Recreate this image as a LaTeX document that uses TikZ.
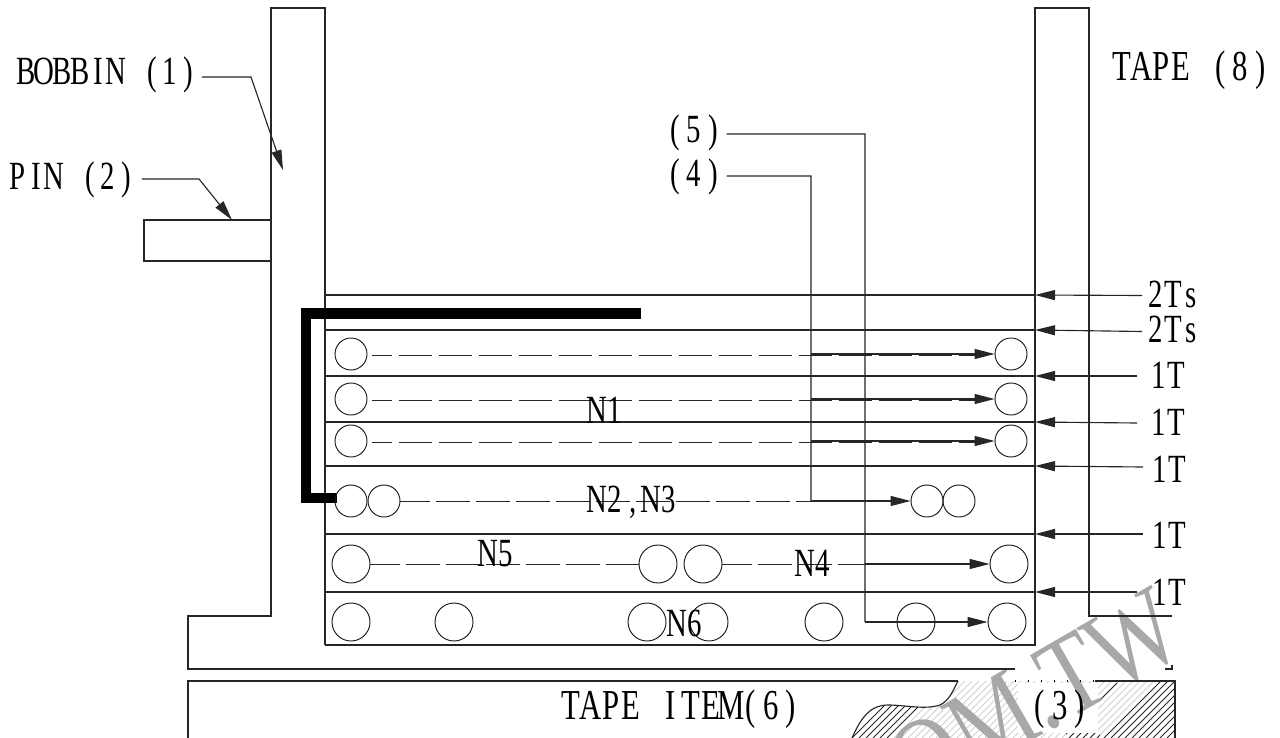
\documentclass[tikz,border=0pt]{standalone}
\usepackage{fontspec}
\usetikzlibrary{arrows.meta}
\newfontfamily\cadfont[FakeStretch=0.72]{Liberation Serif}
\newfontfamily\wmfont[FakeStretch=0.8]{Liberation Serif}
\newlength\cadw
\def\cadloop#1{\ifx#1\relax\else\makebox[\cadw][c]{#1}\expandafter\cadloop\fi}
\newcommand\cad[2][13.5pt]{\setlength\cadw{#1}\cadloop#2\relax}
\tikzset{
  x=0.75pt,y=-0.75pt,
  ln/.style={line width=0.85pt,line join=miter,draw=black!85},
  lab/.style={inner sep=0pt,font=\cadfont\fontsize{30}{32}\selectfont},
  labbig/.style={inner sep=0pt,font=\cadfont\fontsize{32}{34}\selectfont},
  coil/.style={circle,draw=black!90,line width=0.7pt,inner sep=0pt,minimum size=24pt},
  bigcoil/.style={circle,draw=black!90,line width=0.7pt,inner sep=0pt,minimum size=28.5pt},
  tip/.style={ln,-{Triangle[length=15pt,width=7.5pt]}},
  dashw/.style={ln,line width=0.7pt,dash pattern=on 25pt off 5pt},
  hatchk/.style={line width=0.75pt,draw=black!85},
  hatchg/.style={line width=0.6pt,draw=black!18},
}
\begin{document}
\begin{tikzpicture}
\useasboundingbox (0,0) rectangle (1280,738);
\fill[white] (0,0) rectangle (1280,738);
% cut-away hatching of the core
\begin{scope}
  \clip (852,738) .. controls (862,715) and (872,705) .. (888,705) .. controls (905,705) and (925,710) .. (940,705) .. controls (950,700) and (953,690) .. (958,681) -- (1175,681) -- (1175,738) -- cycle;
  \foreach \c in {1590,1597,...,1625} \draw[hatchk] (\c-738,738) -- (\c-681,681);
  \foreach \c in {1632,1639,...,1835} \draw[hatchg] (\c-738,738) -- (\c-681,681);
  \foreach \c in {1842,1849,...,1915} \draw[hatchk] (\c-738,738) -- (\c-681,681);
  \fill[white] (1018,683) rectangle (1098,733);
  \draw[hatchk] (1100,700) -- (1117,683);
  \begin{scope}
    \clip (1066,733) rectangle (1100,738);
    \foreach \c in {1800,1807,...,1835} \draw[hatchk] (\c-738,738) -- (\c-681,681);
  \end{scope}
\end{scope}
\draw[ln] (852,738) .. controls (862,715) and (872,705) .. (888,705) .. controls (905,705) and (925,710) .. (940,705) .. controls (950,700) and (953,690) .. (958,681);
% watermark
\begin{scope}
\clip (0,0) rectangle (1280,738);
\node[anchor=base east,inner sep=0pt,rotate=30,text=black!34,font=\wmfont\fontsize{86}{86}\selectfont] (wm) at (1190,650) {OM.TW};
\end{scope}
% bobbin outline
\draw[ln] (325,645) -- (325,8) -- (271,8) -- (271,616) -- (188,616) -- (188,669) -- (1015,669);
\draw[ln] (1165,669) -- (1172,669) -- (1172,665);
\draw[ln] (325,645) -- (1035,645) -- (1035,8) -- (1089,8) -- (1089,616) -- (1172,616);
\draw[ln] (144,220) rectangle (271,261);
% core outline
\draw[ln] (188,738) -- (188,681) -- (958,681);
\draw[ln] (1095,681) -- (1175,681) -- (1175,738);
\draw[line width=0.85pt,dash pattern=on 0.8pt off 9pt] (1015,681) -- (1095,681);
% layers
\foreach \y/\n in {295/a,330/b,376/c,422/d,466/e,534/f,592/g}{
  \coordinate (l\n) at (325,\y);
  \coordinate (r\n) at (1035,\y);
  \draw[ln] (l\n) -- (r\n);
}
% shield
\draw[line width=7.9pt,line join=miter] (640.5,313.5) -- (306,313.5) -- (306,498) -- (337,498);
% windings
\node[coil] (a1) at (351,354) {}; \node[coil] (a2) at (1011,354) {};
\node[coil] (b1) at (351,399) {}; \node[coil] (b2) at (1011,399) {};
\node[coil] (c1) at (351,441) {}; \node[coil] (c2) at (1011,441) {};
\node[coil] (d1) at (351,501) {}; \node[coil] (d2) at (384,501) {};
\node[coil] (d3) at (927,501) {}; \node[coil] (d4) at (959,501) {};
\node[bigcoil] (e1) at (351,564) {}; \node[bigcoil] (e2) at (658,564) {};
\node[bigcoil] (e3) at (703,564) {}; \node[bigcoil] (e4) at (1009,564) {};
\node[bigcoil] (f1) at (351,622) {}; \node[bigcoil] (f2) at (454,622) {};
\node[bigcoil] (f3) at (647,622) {}; \node[bigcoil] (f4) at (709,622) {};
\node[bigcoil] (f5) at (824,622) {}; \node[bigcoil] (f6) at (916,622) {};
\node[bigcoil] (f7) at (1007,622) {};
% dashed winding paths
\draw[dashw,dash phase=10pt] (372,355) -- (975,355);
\draw[dashw,dash phase=10pt] (372,400) -- (975,400);
\draw[dashw,dash phase=10pt] (372,442) -- (975,442);
\draw[dashw,dash phase=3pt] (d2.east) -- (811,501);
\draw[dashw,dash phase=3pt] (e1.east) -- (e2.west);
\draw[dashw,dash phase=3pt] (e3.east) -- (866,564);
% labels
\node[lab] (bob) at (107,75) {\cad[13.5pt]{BOBBIN~(1)}};
\node[lab] (pin) at (72,180) {\cad[13.5pt]{PIN~(2)}};
\node[labbig] (tape) at (1191,70) {\cad[14.9pt]{TAPE~(8)}};
\node[lab] (five) at (694,133) {\cad[14.2pt]{(5)}};
\node[lab] (four) at (694,177) {\cad[14.2pt]{(4)}};
\node[lab] (t1) at (1173.5,294) {\cad{2Ts}};
\node[lab] (t2) at (1173.5,329) {\cad{2Ts}};
\node[lab] (t3) at (1167.5,375) {\cad{1T}};
\node[lab] (t4) at (1167.5,422) {\cad{1T}};
\node[lab] (t5) at (1168.5,469) {\cad{1T}};
\node[lab] (t6) at (1168.5,535) {\cad{1T}};
\node[lab] (t7) at (1168.5,592) {\cad{1T}};
\node[lab] (n1) at (606,410) {\cad{N1}};
\node[lab] (n23) at (633,502) {\cad{N2,N3}};
\node[lab] (n5) at (497,554) {\cad{N5}};
\node[lab] (n4) at (814,563) {\cad{N4}};
\node[lab] (n6) at (686,623) {\cad{N6}};
\node[labbig] (item) at (681,709) {\cad[15pt]{TAPE~ITEM(6)}};
\node[labbig] (three) at (1060,709) {\cad[15pt]{(3)}};
% leaders
\coordinate (bobt) at (283,170);
\coordinate (pint) at (232,220);
\coordinate (bobk) at (251,77);
\coordinate (pink) at (199,179);
\draw[tip] ([xshift=3.5pt,yshift=-1.5pt]bob.east) -- (bobk) -- (bobt);
\draw[tip] ([xshift=5pt,yshift=0.7pt]pin.east) -- (pink) -- (pint);
\coordinate (j4) at (811,176);
\coordinate (j5) at (865,134);
\draw[ln] ([xshift=3pt,yshift=-0.8pt]five.east) -- (j5) -- (865,622);
\draw[ln] ([xshift=3pt,yshift=0.7pt]four.east) -- (j4) -- (811,501);
\draw[tip] (811,354) -- (a2.west);
\draw[tip] (811,399) -- (b2.west);
\draw[tip] (811,441) -- (c2.west);
\draw[tip] (811,501) -- (d3.west);
\draw[tip] (865,564) -- (e4.west);
\draw[tip] (865,622) -- (f7.west);
% layer arrows
\draw[tip] (1142,295.5) -- (ra);
\draw[tip] (1142,331.5) -- (rb);
\draw[tip] (1137,376) -- (rc);
\draw[tip] (1137,423) -- (rd);
\draw[tip] (1143,467) -- (re);
\draw[tip] (1143,534) -- (rf);
\draw[tip] (1137,592) -- (rg);
\end{tikzpicture}
\end{document}
